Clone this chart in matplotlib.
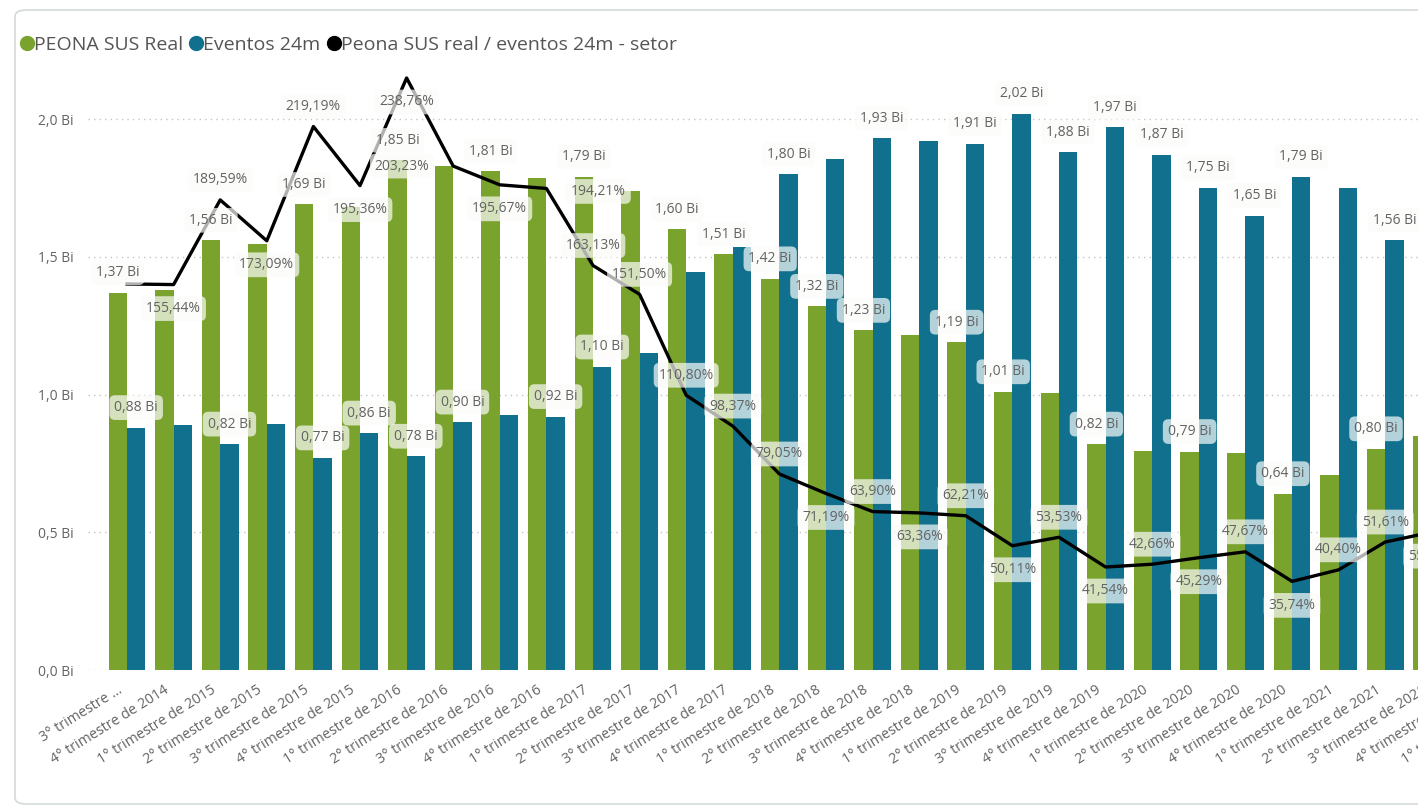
import matplotlib.pyplot as plt
from matplotlib.lines import Line2D
from matplotlib.patches import FancyBboxPatch
from matplotlib.transforms import ScaledTranslation
import numpy as np

plt.rcParams['font.family'] = ['Open Sans', 'DejaVu Sans']

# quarters as shown on the axis (the chart is cut on the right)
quarters = ["3° trimestre ...", "4° trimestre de 2014",
            "1° trimestre de 2015", "2° trimestre de 2015", "3° trimestre de 2015", "4° trimestre de 2015",
            "1° trimestre de 2016", "2° trimestre de 2016", "3° trimestre de 2016", "4° trimestre de 2016",
            "1° trimestre de 2017", "2° trimestre de 2017", "3° trimestre de 2017", "4° trimestre de 2017",
            "1° trimestre de 2018", "2° trimestre de 2018", "3° trimestre de 2018", "4° trimestre de 2018",
            "1° trimestre de 2019", "2° trimestre de 2019", "3° trimestre de 2019", "4° trimestre de 2019",
            "1° trimestre de 2020", "2° trimestre de 2020", "3° trimestre de 2020", "4° trimestre de 2020",
            "1° trimestre de 2021", "2° trimestre de 2021", "3° trimestre de 2021", "4° trimestre de 2021",
            "1° trimestre de 2022"]

# values in billions (Bi)
peona = [1.37, 1.38, 1.56, 1.546, 1.69, 1.68, 1.85, 1.83, 1.81, 1.787, 1.79, 1.74, 1.60, 1.51,
         1.42, 1.32, 1.233, 1.215, 1.19, 1.01, 1.006, 0.82, 0.796, 0.793, 0.789, 0.64, 0.707, 0.803, 0.85]
eventos = [0.88, 0.888, 0.82, 0.893, 0.77, 0.86, 0.776, 0.90, 0.925, 0.92, 1.10, 1.15, 1.444, 1.535,
           1.80, 1.855, 1.93, 1.92, 1.91, 2.02, 1.88, 1.97, 1.87, 1.75, 1.65, 1.79, 1.75, 1.56, 1.53]
# PEONA / eventos, in %
ratio = [155.7, 155.44, 189.59, 173.09, 219.19, 195.36, 238.76, 203.23, 195.67, 194.21, 163.13,
         151.50, 110.80, 98.37, 79.05, 71.19, 63.90, 63.36, 62.21, 50.11, 53.53, 41.54, 42.66,
         45.29, 47.67, 35.74, 40.40, 51.61, 55.6]

# which data labels Power BI shows
peona_shown = [0, 2, 4, 6, 8, 10, 12, 13, 14, 15, 16, 18, 19, 21, 23, 25, 27]
eventos_shown = [0, 2, 4, 5, 6, 7, 9, 10, 14, 16, 18, 19, 20, 21, 22, 23, 24, 25, 27]
ratio_pos = {1: 'below', 2: 'above', 3: 'below', 4: 'above', 5: 'below', 6: 'below', 7: 'left',
             8: 'below', 9: 'right', 10: 'above', 11: 'above', 12: 'above', 13: 'above', 14: 'above',
             15: 'below', 16: 'above', 17: 'below', 18: 'above', 19: 'below', 20: 'above', 21: 'below',
             22: 'above', 23: 'below', 24: 'above', 25: 'below', 26: 'above', 27: 'above', 28: 'below'}

GREEN = '#7AA32D'
TEAL = '#11708D'
TXT = '#636363'
W, H = 1418, 811

fig = plt.figure(figsize=(W / 100, H / 100), dpi=100)
fig.patch.set_facecolor('white')

# axes runs past the right edge of the figure, like the cropped screenshot
x0, x1 = -0.837, 30.5
left_px = 88
px_per_unit = 46.6
right_px = left_px + (x1 - x0) * px_per_unit
ax = fig.add_axes([left_px / W, (H - 670) / H, (right_px - left_px) / W, (670 - 64) / H])
ax2 = ax.twinx()

x = np.arange(len(peona))
bw = 0.395
ax.bar(x - bw / 2, peona, bw, color=GREEN, zorder=2)
ax.bar(x + bw / 2, eventos, bw, color=TEAL, zorder=2)

ax.set_xlim(x0, x1)
ax.set_ylim(0, 2.2)
ax.set_yticks([0, 0.5, 1.0, 1.5, 2.0])
ax.set_yticklabels(['0,0 Bi', '0,5 Bi', '1,0 Bi', '1,5 Bi', '2,0 Bi'])
ax.yaxis.grid(True, linestyle=(0, (1, 3)), color='#c4c4c4', lw=1)
ax.set_axisbelow(True)
ax.tick_params(axis='y', length=0, pad=10, labelsize=10, labelcolor=TXT)
ax.set_xticks(range(len(quarters)))
ax.set_xticklabels(quarters, rotation=32, ha='right', rotation_mode='anchor')
ax.tick_params(axis='x', length=0, pad=9, labelsize=10.3, labelcolor=TXT)
shift = ScaledTranslation(-10 / 100, 0, fig.dpi_scale_trans)
for lab in ax.get_xticklabels():
    lab.set_transform(lab.get_transform() + shift)
for s in ax.spines.values():
    s.set_visible(False)

ax2.plot(x, ratio, color='black', lw=2.4, solid_joinstyle='round', zorder=3)
ax2.set_ylim(0, 244.4)
ax2.set_yticks([])
for s in ax2.spines.values():
    s.set_visible(False)

box = dict(boxstyle='round,pad=0.35,rounding_size=0.4', fc='#fbfcfa', ec='none', alpha=0.7)


def fmt(v, suffix):
    return f"{v:.2f}".replace('.', ',') + suffix


for i in peona_shown:
    ax2.annotate(fmt(peona[i], ' Bi'), (x[i] - bw / 2, peona[i]), xycoords=ax.transData,
                 xytext=(0, 20), textcoords='offset pixels', ha='center', va='center',
                 fontsize=10, color=TXT, bbox=box, zorder=5)
for i in eventos_shown:
    ax2.annotate(fmt(eventos[i], ' Bi'), (x[i] + bw / 2, eventos[i]), xycoords=ax.transData,
                 xytext=(0, 20), textcoords='offset pixels', ha='center', va='center',
                 fontsize=10, color=TXT, bbox=box, zorder=5)
offsets = {'above': (0, 20), 'below': (0, -24), 'left': (-51, 0), 'right': (52, -3)}
for i, pos in ratio_pos.items():
    ax2.annotate(fmt(ratio[i], '%'), (x[i], ratio[i]), xytext=offsets[pos],
                 textcoords='offset pixels', ha='center', va='center',
                 fontsize=10, color=TXT, bbox=box, zorder=6)

handles = [Line2D([], [], marker='o', ls='none', color=c, markersize=10)
           for c in (GREEN, TEAL, 'black')]
fig.legend(handles, ['PEONA SUS Real', 'Eventos 24m', 'Peona SUS real / eventos 24m - setor'],
           loc='center left', bbox_to_anchor=(22 / W, 1 - 45 / H), ncol=3, frameon=False,
           handlelength=0.5, handletextpad=0.1, columnspacing=0.45, fontsize=14,
           labelcolor='#555555', borderaxespad=0, borderpad=0)

frame = FancyBboxPatch((15 / W, 1 - 804 / H), 1460 / W, 794 / H,
                       boxstyle='round,pad=0,rounding_size=0.008', transform=fig.transFigure,
                       fc='none', ec='#d3dad6', lw=1.2)
fig.patches.append(frame)

fig.savefig('out.png', dpi=100)
